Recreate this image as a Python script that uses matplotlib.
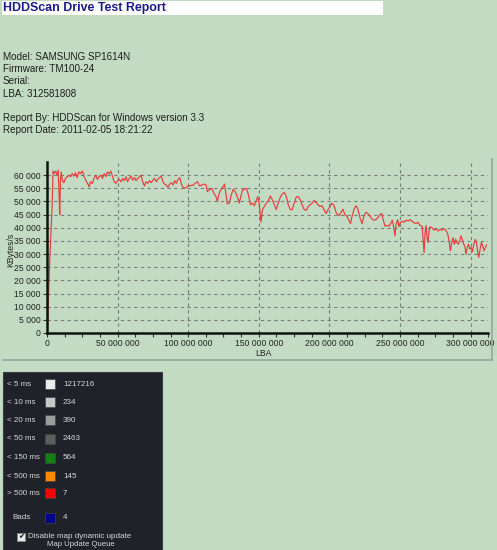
import matplotlib
matplotlib.use("Agg")
import matplotlib.pyplot as plt
from matplotlib.patches import Rectangle
from matplotlib.ticker import FuncFormatter, MultipleLocator

# ---------------- data ----------------
lba_millions = [
    0.5, 1.0, 1.9, 2.9, 3.6, 4.3, 5.2, 6.2, 7.1, 7.9, 8.6, 9.0, 9.5, 10.0, 10.9, 11.9,
    13.1, 14.3, 15.5, 16.7, 17.9, 19.0, 20.2, 21.4, 22.6, 23.8, 25.0, 26.2, 27.4, 28.6,
    29.8, 30.9, 32.1, 33.3, 34.5, 35.7, 36.9, 38.1, 39.3, 40.5, 41.7, 42.8, 44.0, 45.2,
    46.4, 47.6, 48.8, 50.0, 51.2, 52.4, 53.6, 54.7, 55.9, 57.1, 58.3, 59.5, 60.7, 61.9,
    63.1, 64.3, 65.5, 66.6, 67.8, 69.0, 70.2, 71.4, 72.6, 73.8, 75.0, 76.2, 77.4, 78.5,
    79.7, 80.9, 82.1, 83.3, 84.5, 85.7, 86.9, 88.1, 89.3, 90.4, 91.6, 92.8, 94.0, 95.2,
    96.4, 97.6, 98.8, 100.0,
    103.8, 104.9, 106.6, 108.0, 109.6, 111.3, 112.7, 113.6, 115.0, 116.7, 118.3, 119.7,
    120.7, 121.6, 123.0, 124.4, 125.8, 126.8, 127.7, 129.1, 130.5, 131.9, 133.3, 134.7,
    136.2, 137.3, 138.5, 139.9, 141.3, 142.7, 144.1, 145.5, 146.9, 148.4, 149.3, 150.2,
    150.9, 151.6, 152.6, 154.0, 155.4, 156.8, 158.2, 159.6, 161.0, 162.4, 163.8, 165.3,
    166.7, 168.1, 169.5, 170.9, 172.3, 173.7, 175.1, 176.5, 177.9, 179.3, 180.7, 182.2,
    183.6, 185.0, 186.4, 187.8, 189.2, 190.6, 192.0, 193.4, 194.8, 196.2, 197.6, 199.1,
    200.5, 201.9, 203.3,
    204.9, 206.8, 208.4, 209.6, 211.0, 212.4, 213.8, 215.0, 216.1, 217.5, 218.9, 220.3,
    221.7, 223.1, 224.5, 225.9, 227.3, 228.7, 230.1, 231.5, 232.9, 234.3, 235.8, 237.2,
    238.1, 239.5, 240.9, 242.3, 243.7, 244.6, 245.6, 246.5, 247.2, 248.4, 249.3, 250.2,
    251.6, 253.0, 254.4, 255.8, 257.2, 258.6, 260.0, 261.4, 262.8, 264.2, 265.7, 266.4,
    267.1, 267.8, 268.5, 269.2, 269.9, 270.6, 271.3, 272.7, 274.1, 275.5, 276.9, 278.3,
    279.7, 281.1, 282.5, 283.9, 284.8, 285.7, 286.7, 287.6, 288.5, 289.5, 290.4, 291.3,
    292.3, 293.2, 294.2, 295.1, 296.0, 296.7, 297.7, 298.6, 299.5, 300.5, 301.4, 302.3,
    303.3, 304.2, 305.1, 305.8, 306.8, 307.7, 308.6, 309.6, 310.5, 311.4,
]
speed_kbs = [
    3100, 13000, 27000, 39000, 48000, 61600, 60600, 61600, 60000, 61900, 51900, 45000,
    56900, 61250, 58100, 57100, 58750, 59400, 60000, 59400, 60600, 59600, 60900, 59100,
    61250, 60600, 61600, 59600, 58100, 57100, 55600, 57500, 56900, 58750, 60000, 58400,
    59400, 60000, 58750, 60600, 59400, 61250, 60400, 61600, 59600, 57500, 56900, 57900,
    58400, 57500, 58750, 57900, 59400, 57500, 58750, 59600, 58100, 59100, 57900, 58750,
    59400, 60000, 57500, 55900, 57500, 56900, 57900, 57100, 58100, 58750, 57500, 58400,
    59100, 59600, 57500, 56600, 56250, 55400, 56600, 57100, 56250, 57900, 56900, 58400,
    59100, 56600, 55400, 55000, 55400, 55900,
    56250, 56900, 57500, 55900, 56250, 56600, 56250, 53750, 54400, 55000, 53100, 51900,
    50000, 52500, 54400, 55400, 56600, 52500, 49100, 49400, 52500, 54600, 53750, 51900,
    49400, 51900, 54400, 54600, 55000, 52500, 48750, 49400, 48400, 50600, 51900, 49400,
    45600, 42100, 46900, 48100, 49400, 50400, 52100, 50600, 48750, 46900, 49400, 51600,
    52900, 53400, 51900, 48750, 46900, 46900, 49400, 51600, 51900, 50600, 48750, 46900,
    46600, 48100, 48750, 49400, 50400, 49600, 48750, 48100, 48400, 46900, 45400, 46900,
    48100, 49400, 48400,
    45600, 44600, 45900, 47100, 45000, 44400, 42900, 41600, 44400, 47100, 48400, 46900,
    43750, 41600, 44400, 45900, 45400, 44400, 43400, 42900, 43100, 43750, 45000, 45400,
    43100, 40600, 40900, 40600, 41900, 42900, 40000, 36900, 41250, 43100, 40400, 41900,
    42500, 42100, 42900, 42500, 43100, 42500, 41900, 41600, 42100, 40900, 40600, 35600,
    30600, 38100, 40900, 36250, 34400, 38750, 40400, 40000, 39100, 39600, 38750, 39400,
    39100, 39600, 39100, 37500, 35000, 31250, 34400, 36250, 33750, 35600, 34400, 33750,
    35000, 36900, 35600, 33750, 33100, 30000, 32500, 33750, 31900, 32500, 30900, 33750,
    35600, 34400, 30600, 28750, 31900, 34400, 33100, 31250, 32500, 33400,
]
total_lba = 312581808

title = "HDDScan Drive Test Report"
info_lines = [
    "Model: SAMSUNG SP1614N",
    "Firmware: TM100-24",
    "Serial:",
    "LBA: 312581808",
    "",
    "Report By: HDDScan for Windows version 3.3",
    "Report Date: 2011-02-05 18:21:22",
]
bucket_labels = ["< 5 ms", "< 10 ms", "< 20 ms", "< 50 ms", "< 150 ms", "< 500 ms", "> 500 ms"]
bucket_counts = [1217216, 234, 390, 2463, 564, 145, 7]
bucket_colors = ["#ebebeb", "#c8c8c8", "#9c9c9c", "#5e5e5e", "#0f820f", "#ff8a00", "#ff0000"]
bads_label = "Bads"
bads_count = 4
bads_color = "#00008c"

# ---------------- figure ----------------
W, H = 497, 550
BG = "#c3dbc3"
fig = plt.figure(figsize=(W / 100, H / 100), dpi=100, facecolor=BG)
plt.rcParams['font.family'] = ['Liberation Sans', 'DejaVu Sans']

def fx(px):
    return px / W

def fy(py):
    return 1 - py / H

# title bar
fig.patches.append(Rectangle((fx(2), fy(15)), fx(381), 14 / H, transform=fig.transFigure,
                             facecolor="white", edgecolor="none"))
fig.text(fx(3), fy(8), title, fontsize=8.9, fontweight="bold", color="#1a1a8a",
         va="center", ha="left")

# info lines
y0 = 57
for i, line in enumerate(info_lines):
    if line:
        fig.text(fx(3), fy(y0 + i * 12.2), line, fontsize=7.1, color="#1e1e1e",
                 va="center", ha="left")

# chart panel frame (right and bottom)
fig.lines.append(plt.Line2D([fx(3), fx(492)], [fy(360), fy(360)], transform=fig.transFigure,
                            color="#9aa49a", lw=1.2))
fig.lines.append(plt.Line2D([fx(492), fx(492)], [fy(159), fy(360)], transform=fig.transFigure,
                            color="#9aa49a", lw=1.2))

# axes
ax = fig.add_axes([fx(47), fy(333), fx(488.3) - fx(47), (333 - 162) / H])
ax.set_facecolor(BG)
lba = [v * 1e6 for v in lba_millions]
ax.plot(lba, speed_kbs, color="#e83c3c", lw=0.85)
ax.set_xlim(0, total_lba)
ax.set_ylim(0, 65000)
ax.set_yticks(range(0, 60001, 5000))
ax.set_xticks(range(0, 300000001, 50000000))
ax.xaxis.set_minor_locator(MultipleLocator(12500000))
fmt = FuncFormatter(lambda v, p: f"{int(v):,}".replace(",", " "))
ax.xaxis.set_major_formatter(fmt)
ax.yaxis.set_major_formatter(fmt)
ax.tick_params(axis="both", which="major", labelsize=6.2, length=3, width=0.8,
               color="#333333", labelcolor="#222222", pad=1.5)
ax.tick_params(axis="x", which="minor", length=3, width=0.8, color="#333333")
ax.grid(True, which="major", linestyle=(0, (3, 3)), color="#7a7a7a", lw=0.8)
for s in ["top", "right"]:
    ax.spines[s].set_visible(False)
for s in ["left", "bottom"]:
    ax.spines[s].set_linewidth(1.8)
    ax.spines[s].set_color("#111111")
fig.text(fx(11), fy(250), "KBytes/s", rotation=90, fontsize=6.2, color="#222222",
         ha="center", va="center")
fig.text(fx(263), fy(353), "LBA", fontsize=6.2, color="#222222", ha="center", va="center")

# legend panel
fig.patches.append(Rectangle((fx(3), 0), fx(159), (550 - 372) / H, transform=fig.transFigure,
                             facecolor="#1f2229", edgecolor="#3a3d44", lw=0.8))
row_y = [384, 402.3, 420.3, 438.5, 457.5, 476, 493.3]
TXT = "#d6d6d6"
for lab, cnt, col, yy in zip(bucket_labels, bucket_counts, bucket_colors, row_y):
    fig.text(fx(7), fy(yy), lab, fontsize=5.8, color=TXT, va="center", ha="left")
    fig.patches.append(Rectangle((fx(45), fy(yy + 5)), fx(10), 10 / H, transform=fig.transFigure,
                                 facecolor=col, edgecolor="#444444", lw=0.5))
    fig.text(fx(63), fy(yy), str(cnt), fontsize=5.8, color=TXT, va="center", ha="left")
yb = 517.7
fig.text(fx(12), fy(yb), bads_label, fontsize=5.8, color=TXT, va="center", ha="left")
fig.patches.append(Rectangle((fx(45), fy(yb + 5)), fx(10), 10 / H, transform=fig.transFigure,
                             facecolor=bads_color, edgecolor="#444444", lw=0.5))
fig.text(fx(63), fy(yb), str(bads_count), fontsize=5.8, color=TXT, va="center", ha="left")

# checkbox
fig.patches.append(Rectangle((fx(17), fy(541)), fx(8), 8 / H, transform=fig.transFigure,
                             facecolor="#e8e8e8", edgecolor="#888888", lw=0.6))
fig.text(fx(21), fy(536.8), "\u2714", fontsize=5.5, color="#222222", va="center", ha="center",
         family="DejaVu Sans")
fig.text(fx(28), fy(536.5), "Disable map dynamic update", fontsize=5.8, color=TXT,
         va="center", ha="left")
fig.text(fx(47), fy(545), "Map Update Queue", fontsize=5.6, color=TXT, va="center", ha="left")

fig.savefig("out.png", dpi=100, facecolor=BG)
